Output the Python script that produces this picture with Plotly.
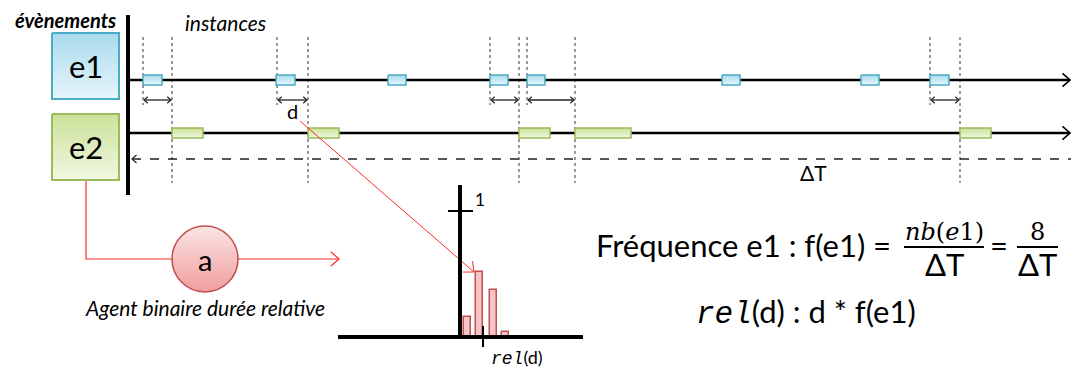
import math
import plotly.graph_objects as go

# ---------------------------------------------------------------------------
# Diagram values (time axis in screen units, y reversed)
# ---------------------------------------------------------------------------
E1_START = [143, 276, 388, 490, 527, 722, 861, 930]
E1_END = [162, 295, 406, 508, 545, 740, 879, 949]
E2_START = [172, 308, 519, 575, 960]
E2_END = [203, 339, 550, 631, 991]

# d : start of e1 -> start of the following e2
D_FROM = [143, 277, 490, 527, 930]
D_TO = [172, 308, 519, 575, 960]

# histogram of rel(d)
HIST_X = [467, 479.5, 493, 505.5]
HIST_H = [20, 65, 47, 5]

Y_E1, Y_E2, Y_DT = 80, 133, 159
T_START, T_END = 130, 1070

FONT = "Lato"
BLUE_LINE, BLUE_TOP, BLUE_BOT = "#4bacc6", "#e6f5fb", "#a9dbee"
GREEN_LINE, GREEN_TOP, GREEN_BOT = "#9bbb59", "#f1f7e2", "#cbe199"
RED = "#ff2a2a"
RED_DARK = "#c0504d"

fig = go.Figure()


def _line(xs, ys, color="black", width=2, dash=None):
    fig.add_trace(go.Scatter(
        x=xs, y=ys, mode="lines",
        line=dict(color=color, width=width, dash=dash),
        hoverinfo="skip", showlegend=False,
    ))


def _rect(x0, x1, y0, y1, top, bottom, edge, width=1.5):
    fig.add_trace(go.Scatter(
        x=[x0, x1, x1, x0, x0], y=[y0, y0, y1, y1, y0],
        mode="lines", fill="toself",
        fillgradient=dict(type="vertical", colorscale=[[0, top], [1, bottom]]),
        line=dict(color=edge, width=width),
        hoverinfo="skip", showlegend=False,
    ))


def _head(x, y, dx, dy, size, color="black", width=2):
    """Open chevron arrow head with its tip at (x, y), pointing along (dx, dy)."""
    n = math.hypot(dx, dy)
    ux, uy = dx / n, dy / n
    pts = []
    for a in (0.72, -0.72):
        c, s = math.cos(a), math.sin(a)
        pts.append((x - size * (ux * c - uy * s), y - size * (ux * s + uy * c)))
    _line([pts[0][0], x, pts[1][0]], [pts[0][1], y, pts[1][1]], color, width)


# vertical bar separating events from instances
_line([128, 128], [15, 195], width=4)

# dotted guides + d arrows
for a, b in zip(D_FROM, D_TO):
    _line([a, a], [37, 105], color="#333", width=1, dash="dot")
    _line([b, b], [37, 183], color="#333", width=1, dash="dot")
    _line([a + 1, b - 1], [100, 100], color="#222", width=1.3)
    _head(a + 1, 100, -1, 0, 5, "#222", 1.2)
    _head(b - 1, 100, 1, 0, 5, "#222", 1.2)

# timelines
_line([T_START, T_END], [Y_E1, Y_E1], width=2.5)
_head(T_END, Y_E1, 1, 0, 10, width=1.6)
_line([T_START, T_END], [Y_E2, Y_E2], width=2.5)
_head(T_END, Y_E2, 1, 0, 10, width=1.6)
_line([T_START + 2, 1071], [Y_DT, Y_DT], color="#222", width=1.3, dash="dash")
_head(T_START + 2, Y_DT, -1, 0, 6, "#222", 1.2)

# instances
for s, e in zip(E1_START, E1_END):
    _rect(s, e, Y_E1 - 5, Y_E1 + 5, BLUE_TOP, BLUE_BOT, BLUE_LINE)
for s, e in zip(E2_START, E2_END):
    _rect(s, e, Y_E2 - 5, Y_E2 + 5, GREEN_TOP, GREEN_BOT, GREEN_LINE)

# event boxes
_rect(52, 119, 33, 99, BLUE_TOP, BLUE_BOT, BLUE_LINE, 2)
_rect(52, 119, 114, 180, GREEN_TOP, GREEN_BOT, GREEN_LINE, 2)

# agent wiring
_line([86, 86, 172], [181, 259, 259], color=RED, width=1.2)
_line([238, 339], [259, 259], color=RED, width=1.2)
_head(339, 259, 1, 0, 11, RED, 1.2)
fig.add_trace(go.Scatter(
    x=[205], y=[259], mode="markers",
    marker=dict(size=66, color="#fbe4e4", symbol="circle",
                gradient=dict(type="vertical", color="#f19e9e"),
                line=dict(color=RED_DARK, width=1.5)),
    hoverinfo="skip", showlegend=False,
))

# d -> histogram
_line([300, 474], [121, 272], color=RED, width=1)
_head(474, 272, 174, 151, 11, RED, 1)

# histogram of rel(d)
fig.add_trace(go.Bar(
    x=HIST_X, y=[-h for h in HIST_H], base=337, width=7,
    marker=dict(color="#f6c4c4", line=dict(color=RED_DARK, width=1.5)),
    hoverinfo="skip", showlegend=False,
))
_line([460, 460], [185, 337], width=4)
_line([448, 473], [211, 211], width=2)
_line([338, 583], [337, 337], width=4)
_line([483, 483], [326, 347], width=2)

# ---------------------------------------------------------------------------
# Texts
# ---------------------------------------------------------------------------
def _text(x, y, text, size, family=FONT, xanchor="center", color="black"):
    fig.add_annotation(x=x, y=y, text=text, showarrow=False, xanchor=xanchor,
                       yanchor="middle", font=dict(family=family, size=size, color=color))


MONO = "<span style='font-family:Liberation Mono'><i>rel</i></span>"

_text(65, 20, "<b><i>évènements</i></b>", 20)
_text(225, 22, "<i>instances</i>", 21)
_text(86, 66, "e1", 31)
_text(86, 147, "e2", 31)
_text(292, 111, "d", 20)
_text(813, 172, "ΔT", 21)
_text(480, 199, "1", 17)
_text(205, 259, "a", 29)
_text(205, 307, "<i>Agent binaire durée relative</i>", 21)
_text(517, 357, MONO + "(d)", 18)

n_e1 = len(E1_START)
_text(893, 245, "Fréquence e1 : f(e1) =", 31, xanchor="right")
_text(944, 232, "<i>nb</i>(<i>e</i>1)", 24, family="DejaVu Serif")
_text(944, 264, "ΔT", 31)
_line([904, 984], [247, 247], width=2)
_text(999, 245, "=", 31)
_text(1037, 232, str(n_e1), 24, family="DejaVu Serif")
_text(1037, 264, "ΔT", 31)
_line([1017, 1058], [247, 247], width=2)
_text(806, 312, MONO + "(d) : d * f(e1)", 31)

fig.update_layout(
    width=1071, height=370,
    margin=dict(l=0, r=0, t=0, b=0),
    paper_bgcolor="white", plot_bgcolor="white",
    xaxis=dict(range=[0, 1071], visible=False, fixedrange=True),
    yaxis=dict(range=[370, 0], visible=False, fixedrange=True),
    bargap=0,
)

fig.write_html("out.html", config={"displayModeBar": False},
               post_script="document.body.style.margin = '0';")
